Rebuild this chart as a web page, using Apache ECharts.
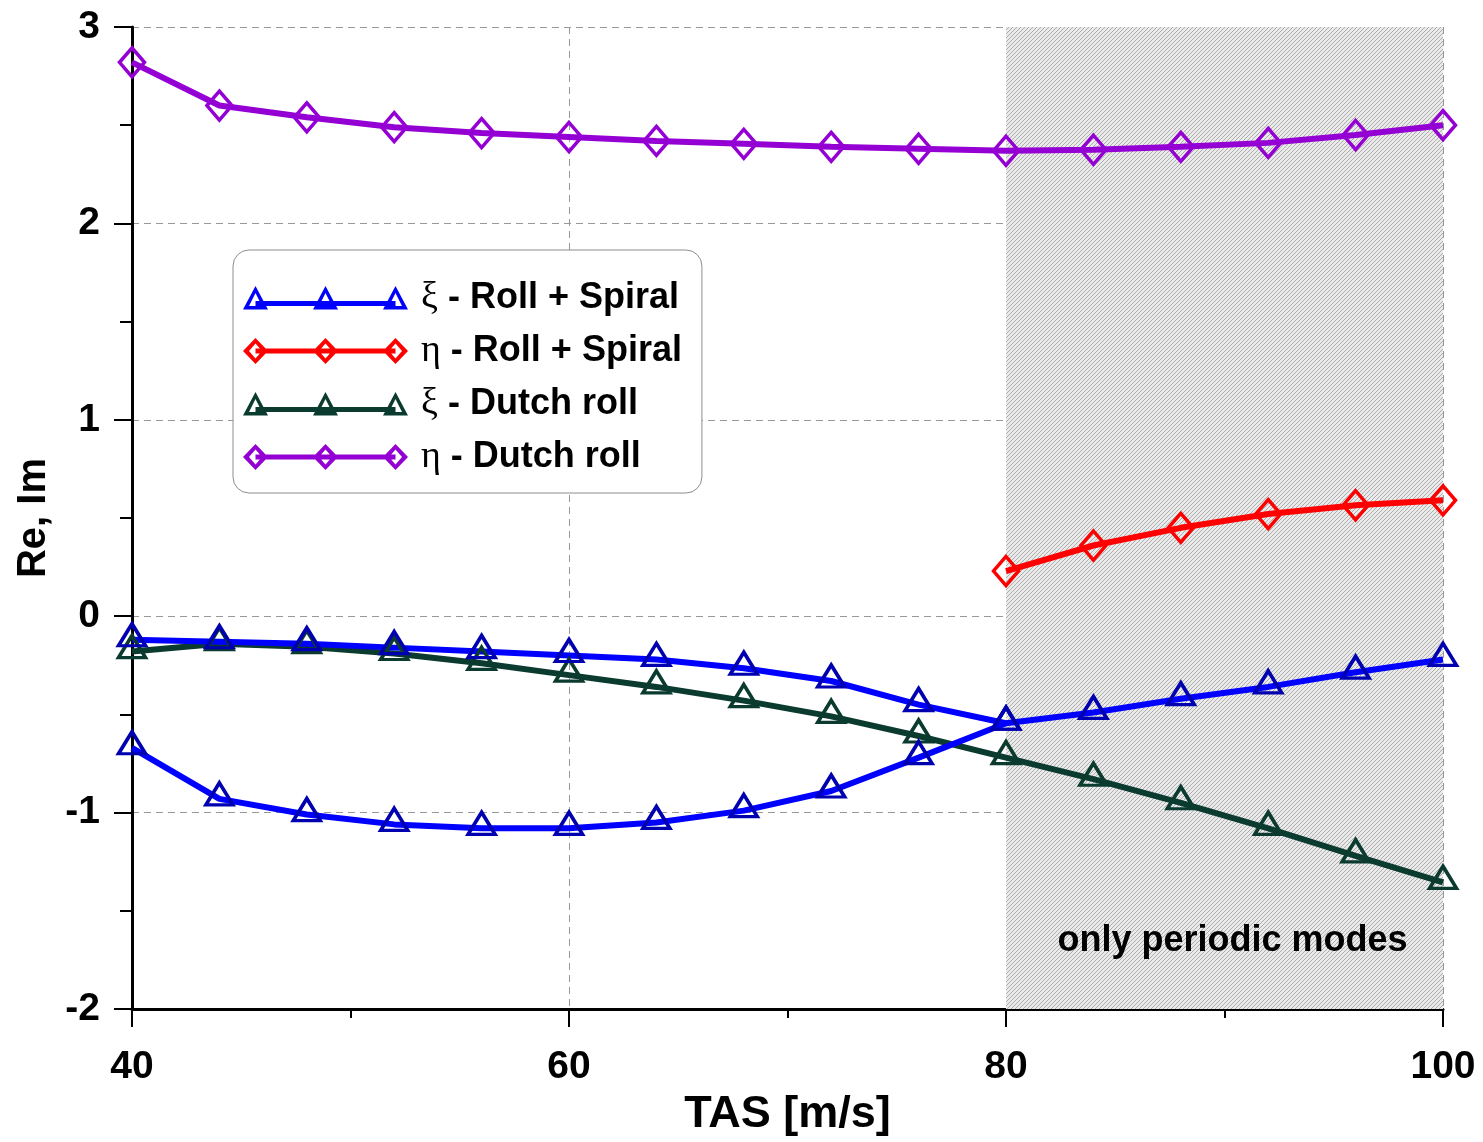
<!DOCTYPE html>
<html>
<head>
<meta charset="utf-8">
<style>
  html, body { margin: 0; padding: 0; background: #fff; }
  #main { width: 1483px; height: 1142px; }
</style>
<script src="https://cdn.jsdelivr.net/npm/echarts@6/dist/echarts.min.js"></script>
</head>
<body>
<div id="main"></div>
<script>
    // TAS [m/s] where the eigenvalues were computed
    var tas = [40, 44, 48, 52, 56, 60, 64, 68, 72, 76, 80, 84, 88, 92, 96, 100];
    var tasAperiodic = [40, 44, 48, 52, 56, 60, 64, 68, 72, 76, 80];
    var tasPeriodic = [80, 84, 88, 92, 96, 100];

    // real parts, roll + spiral (two real roots merge at 80 m/s)
    var xiRollA = [-0.12, -0.13, -0.14, -0.16, -0.18, -0.20, -0.22, -0.265, -0.33, -0.45, -0.545,
                   -0.49, -0.42, -0.36, -0.285, -0.22];
    var xiRollB = [-0.67, -0.93, -1.01, -1.06, -1.08, -1.08, -1.05, -0.99, -0.89, -0.72, -0.545];
    // imaginary part, roll + spiral (only periodic)
    var etaRoll = [0.23, 0.36, 0.45, 0.52, 0.565, 0.59];
    // dutch roll
    var xiDutch = [-0.18, -0.14, -0.155, -0.19, -0.24, -0.30, -0.36, -0.43, -0.51, -0.61, -0.72,
                   -0.83, -0.95, -1.08, -1.22, -1.355];
    var etaDutch = [2.82, 2.60, 2.54, 2.49, 2.46, 2.44, 2.42, 2.405, 2.39, 2.38, 2.37,
                    2.375, 2.39, 2.41, 2.45, 2.50];

    var xTicks = [40, 60, 80, 100];
    var yTicks = [-2, -1, 0, 1, 2, 3];

    var names = ['ξ - Roll + Spiral', 'η - Roll + Spiral', 'ξ - Dutch roll', 'η - Dutch roll'];

    function pairs(xs, ys) {
        return xs.map(function (x, i) { return [x, ys[i]]; });
    }

    // hatch for the "only periodic" band
    var hatch = document.createElement('canvas');
    hatch.width = 4;
    hatch.height = 4;
    var hc = hatch.getContext('2d');
    hc.fillStyle = '#eaeaea';
    hc.fillRect(0, 0, 4, 4);
    hc.strokeStyle = '#a6a6a6';
    hc.lineWidth = 0.9;
    hc.beginPath();
    hc.moveTo(-1, 1); hc.lineTo(1, -1);
    hc.moveTo(0, 4); hc.lineTo(4, 0);
    hc.moveTo(3, 5); hc.lineTo(5, 3);
    hc.stroke();

    // legend samples: thick line with three hollow markers, drawn as filled rings
    // (outer ring clockwise, inner ring anticlockwise -> hole)
    function tri(cx) {
        return 'M' + cx + ' 1 L' + (cx + 12.5) + ' 24.5 L' + (cx - 12.5) + ' 24.5 Z ' +
               'M' + cx + ' 8 L' + (cx - 6.5) + ' 21 L' + (cx + 6.5) + ' 21 Z ';
    }
    function dia(cx) {
        return 'M' + cx + ' 0 L' + (cx + 12.5) + ' 13 L' + cx + ' 26 L' + (cx - 12.5) + ' 13 Z ' +
               'M' + cx + ' 5.5 L' + (cx - 6.5) + ' 13 L' + cx + ' 20.5 L' + (cx + 6.5) + ' 13 Z ';
    }
    var triIcon = 'path://M0 0 M165 26 M12.5 16 L152.5 16 L152.5 21 L12.5 21 Z ' + tri(12.5) + tri(82.5) + tri(152.5);
    var diaIcon = 'path://M0 0 M165 26 M12.5 10.5 L152.5 10.5 L152.5 15.5 L12.5 15.5 Z ' + dia(12.5) + dia(82.5) + dia(152.5);

    var cBlue = '#0000ff', cBlueEdge = '#0000b0';
    var cRed = '#ff0000';
    var cGreen = '#0b3b2e';
    var cPurple = '#9400d3';

    function lineSeries(name, data, symbol, size, offset, lineColor, edgeColor) {
        return {
            name: name,
            type: 'line',
            data: data,
            symbol: symbol,
            symbolSize: size,
            symbolOffset: offset,
            z: 3,
            lineStyle: { width: 6, color: lineColor },
            itemStyle: { color: 'rgba(0,0,0,0)', borderColor: edgeColor, borderWidth: 3.5 },
            emphasis: { disabled: true }
        };
    }

    function legendItem(name, icon, color) {
        return { name: name, icon: icon, itemStyle: { color: color, borderWidth: 0 } };
    }

    var chart = echarts.init(document.getElementById('main'));
    var option = {
        backgroundColor: '#fff',
        animation: false,
        grid: { left: 132, right: 40, top: 27, bottom: 133 },
        legend: {
            left: 233,
            top: 250,
            orient: 'vertical',
            itemWidth: 165,
            itemHeight: 26,
            itemGap: 15,
            padding: [29, 20, 17, 10],
            backgroundColor: '#fff',
            borderColor: '#8c8c8c',
            borderWidth: 1,
            borderRadius: 16,
            selectedMode: false,
            formatter: function (name) {
                return '{g|' + name.charAt(0) + '}{t|' + name.slice(1) + '}';
            },
            textStyle: {
                rich: {
                    g: { fontFamily: 'Liberation Serif', fontSize: 38, lineHeight: 38, color: '#000', padding: [0, 0, 0, 8] },
                    t: { fontFamily: 'Liberation Sans', fontWeight: 'bold', fontSize: 36, lineHeight: 38, color: '#000' }
                }
            },
            data: [
                legendItem(names[0], triIcon, cBlue),
                legendItem(names[1], diaIcon, cRed),
                legendItem(names[2], triIcon, cGreen),
                legendItem(names[3], diaIcon, cPurple)
            ]
        },
        xAxis: {
            type: 'value',
            min: xTicks[0],
            max: xTicks[xTicks.length - 1],
            interval: 20,
            name: 'TAS [m/s]',
            nameLocation: 'middle',
            nameGap: 83,
            nameTextStyle: { fontFamily: 'Liberation Sans', fontWeight: 'bold', fontSize: 45, color: '#000' },
            axisLine: { onZero: false, lineStyle: { color: '#000', width: 3 } },
            axisTick: { inside: false, length: 18, lineStyle: { color: '#000', width: 2 } },
            minorTick: { show: true, splitNumber: 2, length: 9, lineStyle: { color: '#000', width: 2 } },
            axisLabel: { margin: 39, fontFamily: 'Liberation Sans', fontWeight: 'bold', fontSize: 39, color: '#000' },
            splitLine: { show: true, lineStyle: { color: '#999', type: [7, 5], width: 1 } }
        },
        yAxis: {
            type: 'value',
            min: yTicks[0],
            max: yTicks[yTicks.length - 1],
            interval: 1,
            name: 'Re, Im',
            nameLocation: 'middle',
            nameGap: 78,
            nameTextStyle: { fontFamily: 'Liberation Sans', fontWeight: 'bold', fontSize: 40, color: '#000' },
            axisLine: { onZero: false, lineStyle: { color: '#000', width: 3 } },
            axisTick: { inside: false, length: 18, lineStyle: { color: '#000', width: 2 } },
            minorTick: { show: true, splitNumber: 2, length: 12, lineStyle: { color: '#000', width: 2 } },
            axisLabel: { margin: 32, fontFamily: 'Liberation Sans', fontWeight: 'bold', fontSize: 39, color: '#000' },
            splitLine: { show: true, lineStyle: { color: '#999', type: [7, 5], width: 1 } }
        },
        series: [
            {
                name: 'periodic',
                type: 'line',
                data: [],
                z: -1,
                markArea: {
                    silent: true,
                    itemStyle: { color: { image: hatch, repeat: 'repeat' } },
                    label: {
                        show: true,
                        position: 'insideBottom',
                        distance: 50,
                        offset: [8, 0],
                        fontFamily: 'Liberation Sans',
                        fontWeight: 'bold',
                        fontSize: 36,
                        color: '#000'
                    },
                    data: [[{ name: 'only periodic modes', xAxis: tasPeriodic[0] },
                            { xAxis: tasPeriodic[tasPeriodic.length - 1] }]]
                }
            },
            lineSeries(names[2], pairs(tas, xiDutch), 'triangle', [27, 22], [0, -5], cGreen, cGreen),
            lineSeries(names[0], pairs(tasAperiodic, xiRollB), 'triangle', [27, 22], [0, -5], cBlue, cBlueEdge),
            lineSeries(names[0], pairs(tas, xiRollA), 'triangle', [27, 22], [0, -5], cBlue, cBlueEdge),
            lineSeries(names[1], pairs(tasPeriodic, etaRoll), 'diamond', [25, 29], [0, 0], cRed, cRed),
            lineSeries(names[3], pairs(tas, etaDutch), 'diamond', [25, 29], [0, 0], cPurple, cPurple)
        ]
    };
    chart.setOption(option);
</script>
</body>
</html>
